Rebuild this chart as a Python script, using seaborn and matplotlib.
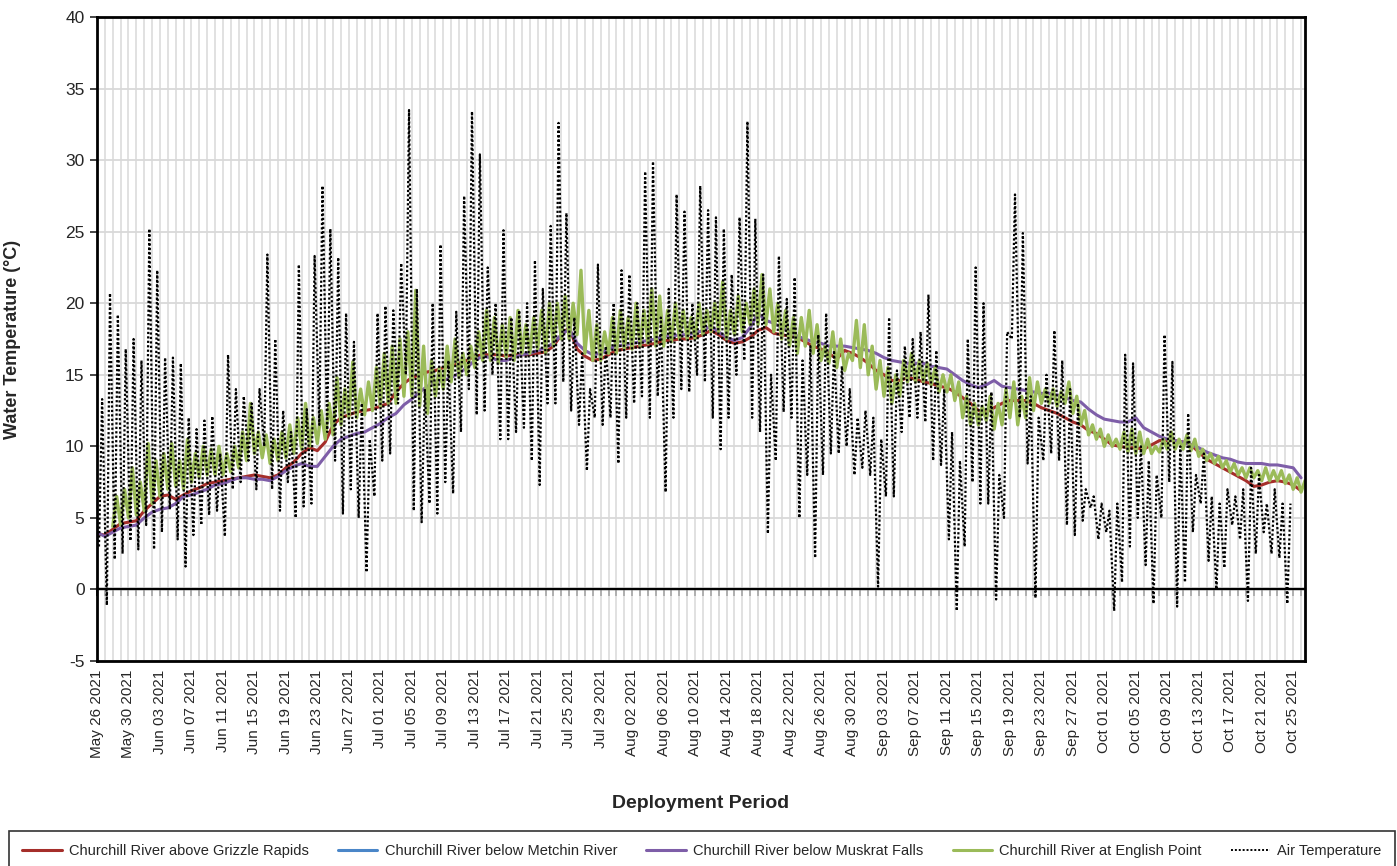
import matplotlib
matplotlib.use("Agg")
import matplotlib.pyplot as plt
import matplotlib.dates as mdates
from matplotlib.ticker import FixedLocator, NullFormatter
from matplotlib.lines import Line2D
import pandas as pd
import seaborn as sns

sns.set_theme(style="white")
plt.rcParams["font.family"] = ["Liberation Sans", "DejaVu Sans"]
plt.rcParams["axes.unicode_minus"] = False

start = pd.Timestamp("2021-05-26")

# daily water temperatures, day 0 = May 26 2021
grizzle = [3.9, 3.8, 4.2, 4.6, 4.7, 4.8, 5.5, 6.0, 6.5, 6.6,
           6.3, 6.6, 6.9, 7.1, 7.4, 7.5, 7.6, 7.7, 7.8, 7.9,
           8.0, 7.9, 7.8, 8.0, 8.5, 8.9, 9.5, 9.9, 9.7, 10.3,
           11.5, 12.0, 12.2, 12.4, 12.5, 12.6, 12.8, 13.0, 13.8, 14.4,
           14.8, 15.0, 15.2, 15.3, 15.5, 15.6, 15.8, 16.0, 16.3, 16.4,
           16.4, 16.4, 16.3, 16.4, 16.4, 16.4, 16.5, 16.6, 17.0, 17.8,
           18.3, 16.8, 16.3, 16.0, 16.1, 16.4, 16.7, 16.8, 16.9, 17.0,
           17.1, 17.2, 17.4, 17.4, 17.5, 17.5, 17.6, 17.8, 18.1, 17.8,
           17.4, 17.2, 17.3, 17.6, 18.1, 18.3, 17.9, 17.8, 17.7, 17.6,
           17.3, 17.0, 16.8, 16.5, 16.1, 16.7, 16.5, 16.2, 15.8, 15.3,
           15.0, 14.6, 14.6, 14.8, 14.7, 14.5, 14.4, 14.2, 14.1, 13.8,
           13.4, 13.0, 12.5, 12.4, 12.7, 13.0, 13.2, 13.2, 13.2, 13.0,
           12.7, 12.5, 12.3, 12.0, 11.7, 11.5, 11.1, 10.9, 10.5, 10.1,
           10.0, 9.9, 9.9, 9.8, 10.1, 10.4, 10.4, 10.4, 10.3, 10.1,
           9.6, 9.1, 8.8, 8.5, 8.2, 7.9, 7.6, 7.2, 7.3, 7.5,
           7.6, 7.5, 7.3, 6.9]

muskrat = [4.0, 3.7, 4.0, 4.3, 4.4, 4.5, 5.0, 5.4, 5.6, 5.7,
           6.0, 6.5, 6.6, 6.8, 7.0, 7.3, 7.4, 7.6, 7.8, 7.8,
           7.7, 7.7, 7.6, 7.9, 8.3, 8.6, 8.8, 8.6, 8.6, 9.3,
           10.0, 10.5, 10.7, 10.9, 11.0, 11.3, 11.6, 12.0, 12.3, 12.9,
           13.3, 13.8, 14.2, 14.5, 14.6, 14.8, 15.1, 15.5, 16.0, 16.3,
           16.2, 16.0, 16.0, 16.2, 16.4, 16.5, 16.7, 16.9, 17.2, 17.8,
           18.2, 17.2, 16.7, 16.4, 16.5, 16.8, 17.0, 17.1, 17.2, 17.3,
           17.4, 17.5, 17.7, 17.7, 17.8, 17.8, 17.9, 18.1, 18.4, 18.0,
           17.6, 17.4, 17.6, 18.3, 19.3, 18.8, 18.6, 18.3, 18.0, 17.7,
           17.5, 17.3, 17.2, 17.0, 17.0, 17.0, 16.9, 16.8, 16.7, 16.5,
           16.2, 16.0, 15.9, 15.8, 15.8, 15.8, 15.6, 15.5, 15.4, 15.0,
           14.6, 14.3, 14.1, 14.3, 14.6, 14.2, 14.1, 14.0, 13.9, 13.8,
           13.7, 13.7, 13.6, 13.4, 13.2, 13.1, 12.6, 12.2, 11.9, 11.8,
           11.7, 11.7, 12.0, 11.3, 11.0, 10.7, 10.5, 10.4, 10.3, 10.1,
           9.9, 9.6, 9.4, 9.2, 9.1, 8.9, 8.8, 8.8, 8.8, 8.7,
           8.7, 8.6, 8.5, 7.8]

# no readings visible for Metchin River
metchin = []

# English Point starts on day 2: daily low and high
english_low = [4.4, 4.5, 5.0, 5.2, 5.5, 6.0, 6.5, 7.0, 7.2, 7.0,
               7.5, 7.8, 8.0, 8.0, 8.0, 8.2, 8.5, 9.0, 9.5, 9.2,
               8.8, 9.0, 9.2, 9.5, 9.8, 10.0, 10.2, 10.5, 10.8, 11.5,
               12.0, 12.0, 12.2, 12.5, 12.8, 13.0, 13.0, 13.5, 13.5, 12.8,
               12.3, 13.5, 14.0, 14.5, 14.8, 15.0, 15.5, 16.0, 16.0, 15.8,
               16.2, 16.0, 16.5, 16.5, 16.8, 16.5, 17.0, 17.5, 17.5, 17.8,
               16.5, 16.0, 16.0, 16.5, 16.5, 16.8, 16.8, 17.0, 17.2, 17.0,
               17.0, 17.3, 17.5, 17.5, 17.5, 17.8, 18.0, 18.0, 17.5, 17.8,
               18.0, 18.5, 18.5, 18.5, 18.0, 17.5, 17.0, 16.5, 17.0, 16.5,
               16.0, 15.8, 15.5, 15.3, 16.0, 15.5, 15.0, 14.0, 13.5, 13.0,
               13.5, 14.5, 14.5, 14.5, 14.3, 13.8, 13.8, 13.2, 12.0, 11.5,
               11.5, 11.8, 11.2, 11.5, 12.0, 11.5, 12.0, 12.5, 13.0, 13.0,
               12.8, 13.0, 12.3, 11.5, 10.8, 10.5, 10.0, 10.0, 9.8, 9.6,
               9.5, 9.5, 9.5, 9.6, 9.8, 9.8, 9.8, 9.7, 9.3, 9.0,
               8.8, 8.5, 8.2, 8.0, 7.8, 7.8, 7.6, 7.6, 7.6, 7.4,
               7.0, 6.8]
english_high = [6.5, 7.0, 8.5, 7.5, 10.2, 9.0, 9.5, 10.2, 9.0, 10.5,
                9.5, 10.0, 9.8, 10.0, 9.5, 10.0, 11.0, 13.0, 11.0, 10.8,
                10.5, 11.0, 11.5, 12.0, 13.0, 12.0, 12.5, 13.0, 14.8, 14.0,
                15.9, 14.0, 14.5, 15.5, 16.5, 17.0, 17.5, 18.0, 20.9, 17.0,
                16.0, 15.5, 17.0, 17.5, 16.5, 17.0, 18.0, 19.5, 19.0, 18.5,
                19.0, 19.5, 18.5, 19.0, 19.5, 20.0, 20.0, 20.5, 20.0, 22.3,
                19.5, 18.5, 18.0, 19.0, 19.5, 19.0, 20.0, 19.5, 21.0, 20.5,
                19.5, 20.0, 19.5, 19.0, 20.0, 19.5, 20.0, 21.5, 19.5, 20.5,
                20.0, 21.0, 22.0, 21.0, 20.0, 19.5, 19.0, 19.0, 19.5, 18.5,
                17.0, 18.0, 17.5, 16.5, 18.8, 18.5, 17.0, 16.0, 15.5, 15.0,
                16.0, 16.5, 16.0, 15.8, 15.5, 15.0, 15.0, 14.5, 13.5, 13.0,
                12.8, 13.5, 13.0, 14.0, 14.5, 13.5, 14.8, 14.5, 14.0, 14.0,
                13.8, 14.5, 13.5, 12.5, 11.5, 11.2, 10.8, 10.5, 11.0, 11.2,
                11.0, 10.5, 10.0, 10.5, 11.0, 10.5, 10.8, 10.5, 9.8, 9.5,
                9.3, 9.0, 8.8, 8.5, 8.5, 8.3, 8.5, 8.3, 8.3, 8.0,
                7.8, 7.6]

# air temperature, daily low and high from day 0
air_low = [3.0, -1.1, 2.1, 2.5, 3.4, 2.8, 4.5, 2.8, 4.0, 5.6,
           3.5, 1.6, 3.8, 4.5, 5.2, 5.5, 3.7, 7.0, 7.5, 9.0,
           7.0, 10.0, 7.0, 5.5, 7.5, 5.0, 5.8, 6.0, 11.5, 11.0,
           9.0, 5.3, 7.0, 5.0, 1.2, 6.5, 9.0, 9.5, 13.0, 15.0,
           5.5, 4.7, 6.0, 5.3, 7.5, 6.7, 11.0, 14.0, 12.2, 12.5,
           15.0, 10.5, 10.5, 11.0, 11.3, 9.0, 7.3, 13.0, 13.0, 14.5,
           12.5, 11.5, 8.3, 12.0, 11.5, 12.0, 8.8, 12.0, 13.0, 13.5,
           12.0, 13.5, 6.8, 12.0, 14.0, 13.8, 15.0, 14.5, 12.0, 9.8,
           12.0, 15.0, 16.0, 12.0, 11.0, 3.9, 9.0, 12.4, 12.0, 5.0,
           8.0, 2.2, 8.0, 9.5, 9.5, 10.0, 8.0, 8.5, 8.0, 0.2,
           6.5, 6.5, 11.0, 12.0, 12.0, 11.7, 9.0, 8.7, 3.5, -1.5,
           3.0, 7.5, 6.0, 6.0, -0.7, 5.0, 17.5, 12.0, 8.8, -0.6,
           9.0, 9.5, 9.0, 4.5, 3.8, 4.8, 5.7, 3.5, 4.0, -1.5,
           0.5, 3.0, 5.0, 1.7, -1.0, 5.0, 7.5, -1.2, 0.5, 4.0,
           6.0, 2.0, 0.0, 1.5, 4.5, 3.5, -0.8, 2.5, 4.0, 2.5,
           2.2, -1.0]
air_high = [13.3, 20.7, 19.2, 16.8, 17.5, 16.0, 25.2, 22.3, 16.2, 16.2,
            15.8, 12.0, 11.2, 11.8, 12.1, 9.5, 16.4, 14.0, 13.5, 13.0,
            14.0, 23.4, 17.5, 12.5, 11.0, 22.7, 12.6, 23.3, 28.2, 25.2,
            23.2, 19.3, 17.3, 13.0, 10.5, 19.3, 19.8, 19.5, 22.8, 33.5,
            21.0, 14.0, 20.0, 24.1, 16.0, 19.4, 27.5, 33.4, 30.4, 22.5,
            20.0, 25.1, 19.0, 19.5, 20.0, 23.0, 21.0, 25.4, 32.6, 26.3,
            19.0, 16.5, 14.0, 22.7, 17.0, 20.0, 22.3, 22.0, 20.0, 29.2,
            29.9, 19.0, 21.0, 27.6, 26.4, 20.0, 28.2, 26.5, 26.0, 25.2,
            22.0, 26.0, 32.7, 25.9, 22.0, 15.0, 23.3, 20.3, 21.8, 16.0,
            17.0, 17.8, 19.3, 16.7, 15.6, 14.0, 12.0, 12.5, 12.0, 10.5,
            19.0, 15.3, 17.0, 17.5, 18.0, 20.6, 16.7, 14.0, 11.0, 9.0,
            17.5, 22.5, 20.0, 13.8, 8.0, 18.0, 27.6, 24.9, 13.5, 12.0,
            15.0, 18.1, 16.0, 14.0, 13.0, 7.0, 6.5, 6.0, 5.5, 6.0,
            16.4, 15.8, 10.0, 9.0, 8.0, 17.8, 15.9, 10.0, 12.3, 8.0,
            9.5, 6.5, 6.0, 7.0, 6.5, 7.0, 8.5, 8.0, 6.0, 7.0,
            6.0, 6.0]

labels = ["Churchill River above Grizzle Rapids", "Churchill River below Metchin River",
          "Churchill River below Muskrat Falls", "Churchill River at English Point",
          "Air Temperature"]
colors = ["#A52E2A", "#4A86C8", "#7E5EA8", "#9BBB59", "black"]


def daily(values, first_day=0):
    t = [start + pd.Timedelta(days=first_day + i) for i in range(len(values))]
    return pd.DataFrame({"time": t, "temp": values})


def low_high(lows, highs, first_day, t_low, t_high):
    rows = []
    for i, (lo, hi) in enumerate(zip(lows, highs)):
        d = first_day + i
        rows.append((start + pd.Timedelta(days=d + t_low), lo))
        rows.append((start + pd.Timedelta(days=d + t_high), hi))
    return pd.DataFrame(rows, columns=["time", "temp"])


fig = plt.figure(figsize=(13.97, 8.66), dpi=100)
ax = fig.add_axes([97 / 1397, 1 - 661 / 866, 1208 / 1397, 644 / 866])

sns.lineplot(data=daily(grizzle), x="time", y="temp", ax=ax, color=colors[0], lw=2.2)
if metchin:
    sns.lineplot(data=daily(metchin), x="time", y="temp", ax=ax, color=colors[1], lw=2.2)
sns.lineplot(data=daily(muskrat), x="time", y="temp", ax=ax, color=colors[2], lw=2.2)
sns.lineplot(data=low_high(english_low, english_high, 2, 0.0, 0.5), x="time", y="temp",
             ax=ax, color=colors[3], lw=2.4)
sns.lineplot(data=low_high(air_low, air_high, 0, 0.25, 0.65), x="time", y="temp",
             ax=ax, color="black", lw=1.6, linestyle=(0, (1, 1)))

ax.set_xlim(start, start + pd.Timedelta(days=153.5))
ax.set_ylim(-5, 40)
ax.set_yticks(range(-5, 41, 5))

days = pd.date_range(start, periods=154, freq="D")
label_days = pd.date_range(start, periods=39, freq="4D")
ax.xaxis.set_major_locator(FixedLocator(mdates.date2num(label_days)))
ax.xaxis.set_minor_locator(FixedLocator(mdates.date2num(days)))
ax.xaxis.set_major_formatter(mdates.DateFormatter("%b %d %Y"))
ax.tick_params(axis="x", which="both", length=0, labelsize=11, rotation=90, pad=6)
ax.tick_params(axis="y", which="major", length=5, width=1.2, direction="out",
               labelsize=12.5, left=True, pad=4)

ax.grid(axis="x", which="both", color="#d9d9d9", lw=1.1)
ax.grid(axis="y", which="major", color="#d9d9d9", lw=1.3)
ax.set_axisbelow(True)
for s in ax.spines.values():
    s.set_color("black")
    s.set_linewidth(2)

# horizontal axis crossing at zero, with a tick mark for every day
ax.axhline(0, color="black", lw=1.6, zorder=1.5)
zero_axis = ax.secondary_xaxis(5 / 45)
zero_axis.xaxis.set_major_locator(FixedLocator(mdates.date2num(days)))
zero_axis.xaxis.set_major_formatter(NullFormatter())
zero_axis.tick_params(axis="x", length=5, width=1.2, direction="out", color="black")
zero_axis.spines["bottom"].set_linewidth(1.6)
zero_axis.spines["bottom"].set_color("black")

ax.set_xlabel("")
ax.set_ylabel("Water Temperature (°C)", fontsize=13, fontweight="bold")
ax.yaxis.set_label_coords(-(97 - 21) / 1208, 0.5)
fig.text(701 / 1397, 1 - 803 / 866, "Deployment Period", fontsize=14, fontweight="bold",
         ha="center", va="center")

handles = [Line2D([], [], color=c, lw=2.2) for c in colors[:4]]
handles.append(Line2D([], [], color="black", lw=1.4, linestyle=(0, (1, 1))))
leg = fig.legend(handles, labels, loc="upper center", bbox_to_anchor=(702 / 1397, 1 - 824 / 866),
                 ncol=5, fontsize=10.5, frameon=True, fancybox=False, edgecolor="black",
                 handlelength=2.7, handletextpad=0.5, columnspacing=2.0, borderpad=0.9)
leg.get_frame().set_linewidth(1.2)

fig.savefig("out.png", dpi=100)
